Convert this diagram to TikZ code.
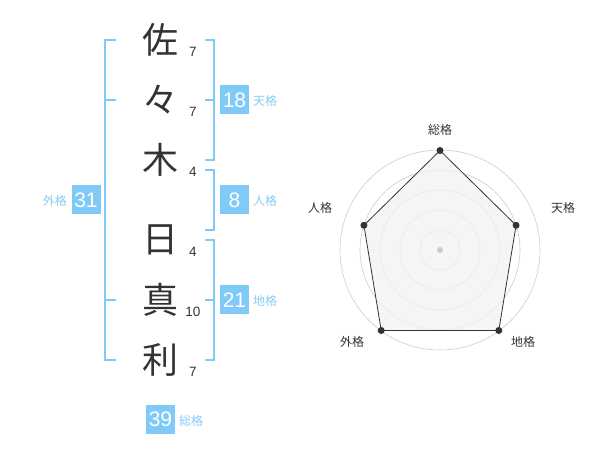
\documentclass[tikz,border=0pt]{standalone}
\usepackage{fontspec}
\setmainfont{Liberation Sans}
\newfontfamily\jp{Noto Sans CJK JP}
\definecolor{bl}{RGB}{128,202,248}
\definecolor{bltxt}{RGB}{135,204,245}
\definecolor{dk}{RGB}{51,51,51}
\definecolor{ring}{RGB}{204,204,204}
\definecolor{polyfill}{RGB}{242,242,242}
\begin{document}
\begin{tikzpicture}[x=1pt,y=-1pt,
  kanji/.style={font=\jp\fontsize{36}{36}\selectfont, text=dk, inner sep=0pt},
  strokes/.style={font=\fontsize{13.5}{13.5}\selectfont, text=dk, inner sep=0pt},
  numbox/.style={fill=bl, text=white, minimum width=29pt, minimum height=29pt, inner sep=0pt, font=\fontsize{21}{21}\selectfont},
  kaku/.style={font=\jp\fontsize{12}{12}\selectfont, text=bltxt, inner sep=0pt},
  brk/.style={draw=bl, line width=1.5pt},
  radlbl/.style={font=\jp\fontsize{12}{12}\selectfont, text=dk, inner sep=0pt},
  dot/.style={circle, fill=dk, inner sep=0pt, minimum size=7pt}]
\useasboundingbox (0,0) rectangle (600,470);
% kanji
\node[kanji] (k1) at (160,40) {佐};
\node[kanji] (k2) at (160,100) {々};
\node[kanji] (k3) at (160,160) {木};
\node[kanji] (k4) at (160,240) {日};
\node[kanji] (k5) at (160,300) {真};
\node[kanji] (k6) at (160,360) {利};
% stroke counts
\node[strokes] (s1) at (193,52) {7};
\node[strokes] (s2) at (193,112) {7};
\node[strokes] (s3) at (193,172) {4};
\node[strokes] (s4) at (193,252) {4};
\node[strokes] (s5) at (193,312) {10};
\node[strokes] (s6) at (193,372) {7};
% brackets
\draw[brk] (116,40) -- (105,40) -- (105,360) -- (116,360);
\draw[brk] (105,100) -- (116,100);
\draw[brk] (105,300) -- (116,300);
\draw[brk] (205,40) -- (214,40) -- (214,160) -- (205,160);
\draw[brk] (205,100) -- (214,100);
\draw[brk] (205,170) -- (214,170) -- (214,230) -- (205,230);
\draw[brk] (205,240) -- (214,240) -- (214,360) -- (205,360);
\draw[brk] (205,300) -- (214,300);
% boxes
\node[numbox] (b18) at (234.5,100) {18};
\node[kaku, anchor=west] (l18) at (253,101) {天格};
\node[numbox] (b8) at (234.5,200) {8};
\node[kaku, anchor=west] (l8) at (253,201) {人格};
\node[numbox] (b21) at (234.5,300) {21};
\node[kaku, anchor=west] (l21) at (253,301) {地格};
\node[numbox] (b31) at (86,200) {31};
\node[kaku, anchor=east] (l31) at (67,201) {外格};
\node[numbox] (b39) at (160.5,419) {39};
\node[kaku, anchor=west] (l39) at (179,421) {総格};
% radar
\coordinate (c) at (440,250);
\coordinate (pT) at (440,150.5);
\coordinate (pR) at (516.08,225.28);
\coordinate (pBR) at (498.78,330.5);
\coordinate (pBL) at (381.22,330.5);
\coordinate (pL) at (363.92,225.28);
\foreach \r in {20,40,60,80,100} \draw[ring, line width=0.6pt] (c) circle (\r);
\draw[dk, line width=0.8pt, fill=polyfill, fill opacity=0.75] (pT) -- (pR) -- (pBR) -- (pBL) -- (pL) -- cycle;
\node[circle, fill=ring, inner sep=0pt, minimum size=6pt] (cd) at (c) {};
\node[dot] (dT) at (pT) {};
\node[dot] (dR) at (pR) {};
\node[dot] (dBR) at (pBR) {};
\node[dot] (dBL) at (pBL) {};
\node[dot] (dL) at (pL) {};
\node[radlbl] (rT) at (440,130) {総格};
\node[radlbl] (rR) at (563,208) {天格};
\node[radlbl] (rL) at (320,208) {人格};
\node[radlbl] (rBL) at (352,342) {外格};
\node[radlbl] (rBR) at (523,342) {地格};
\end{tikzpicture}
\end{document}
